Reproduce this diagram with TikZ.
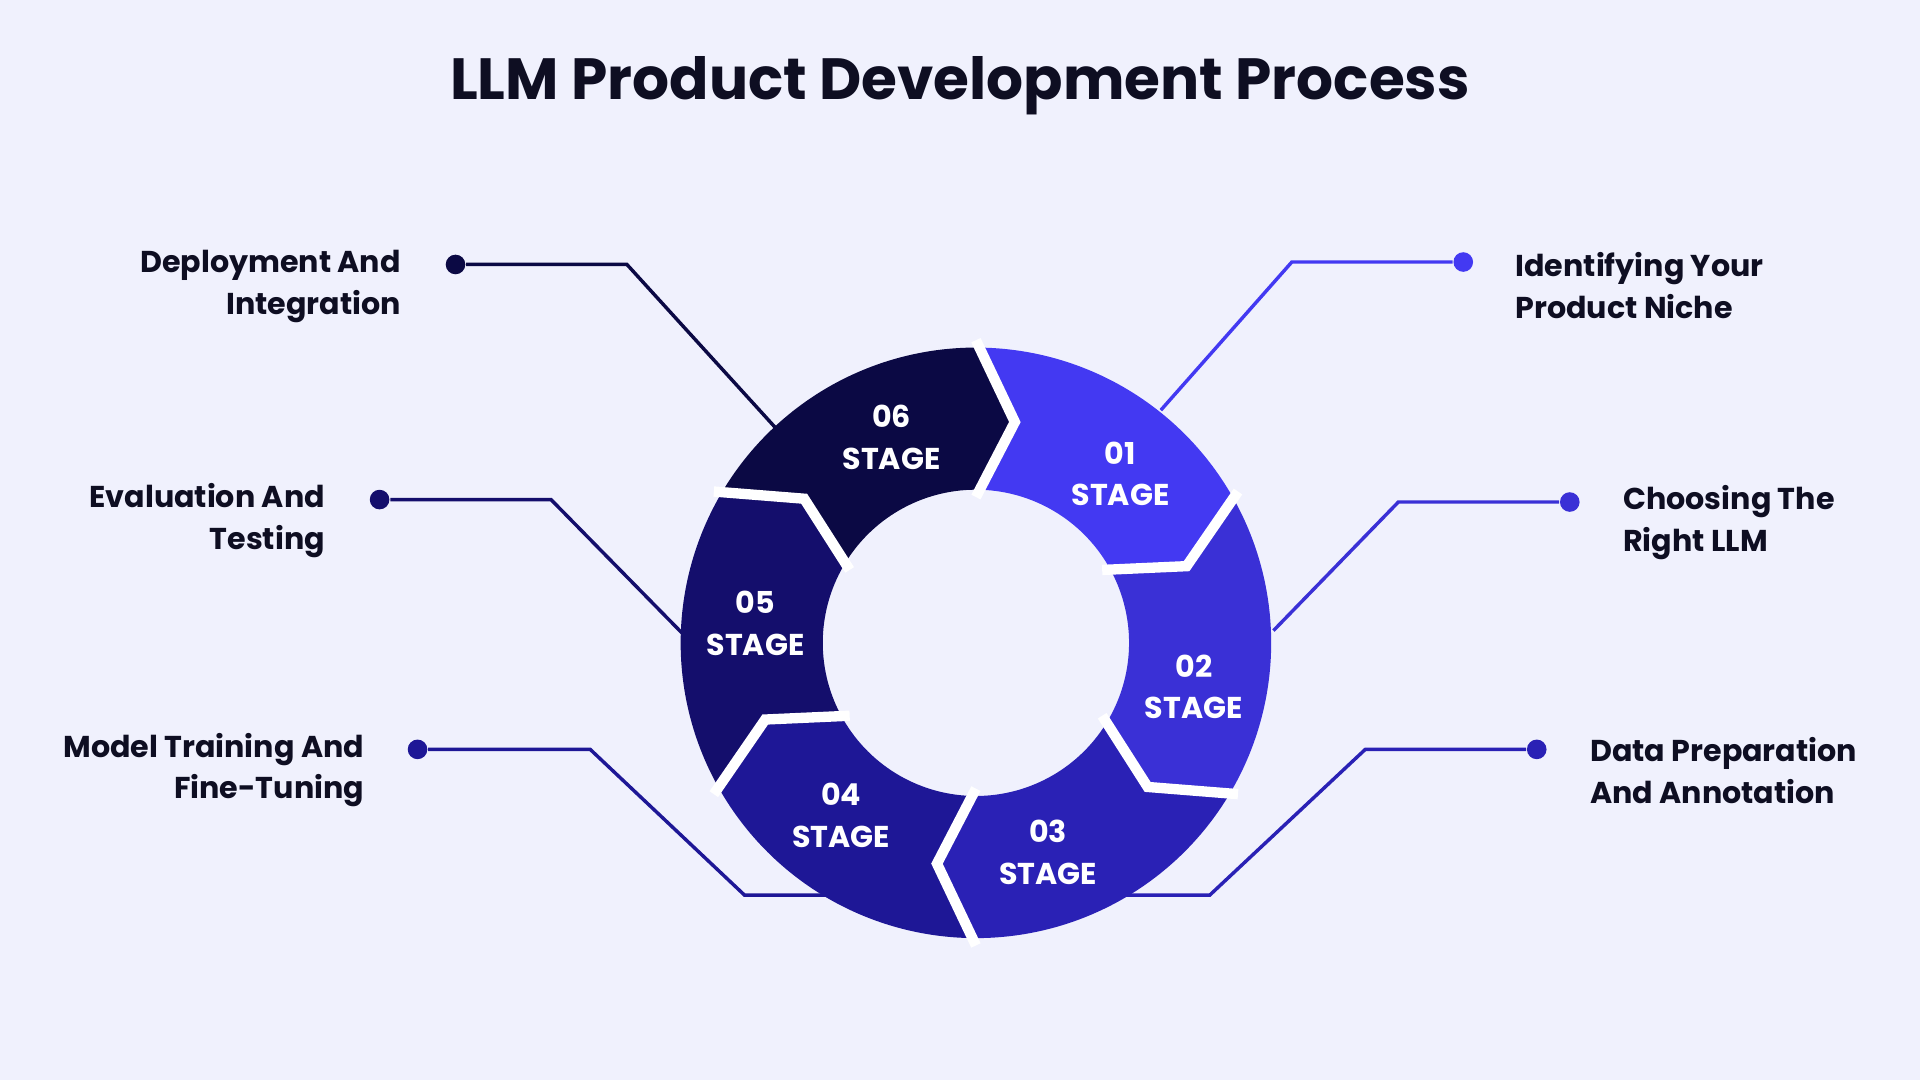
\documentclass[tikz,border=0pt]{standalone}
\usepackage{fontspec}
\setmainfont{Poppins}
\definecolor{bg}{HTML}{F0F1FD}
\definecolor{cA}{HTML}{4339F2}
\definecolor{cB}{HTML}{3A30D6}
\definecolor{cC}{HTML}{2A21B5}
\definecolor{cD}{HTML}{1E1796}
\definecolor{cE}{HTML}{140E6C}
\definecolor{cF}{HTML}{0B0944}
\definecolor{ink}{HTML}{0E0E22}
\tikzset{
 gap/.style={draw=white,line width=2.4pt,line join=miter},
 stg/.style={text=white,font=\bfseries\fontsize{7.0}{9.7}\selectfont,align=center},
 lbl/.style={text=ink,font=\bfseries\fontsize{7.0}{9.7}\selectfont,inner sep=0pt},
 dot/.style={circle,inner sep=0pt,minimum size=0.16cm},
 lnk/.style={line width=0.8pt}
}
\newcommand{\ringseg}[2]{%
 \fill[#2] (#1:2.41) arc[start angle=#1,end angle=#1-60,radius=2.41]
   -- (#1-70:1.83) -- (#1-60:1.25) arc[start angle=#1-60,end angle=#1,radius=1.25]
   -- (#1-10:1.83) -- cycle;}
\newcommand{\ringgap}[1]{\draw[gap] (#1:2.47) -- (#1-10:1.83) -- (#1:1.19);}
\begin{document}
\begin{tikzpicture}[x=0.01cm,y=0.01cm]
\fill[bg] (0,0) rectangle (1568,882);
\useasboundingbox (0,0) rectangle (1568,882);
\node[text=ink,font=\bfseries\fontsize{13.5}{16}\selectfont] (title) at (784,812) {LLM Product Development Process};
\begin{scope}[shift={(797,357)},x=1cm,y=1cm]
\ringseg{90}{cA}
\ringseg{30}{cB}
\ringseg{-30}{cC}
\ringseg{-90}{cD}
\ringseg{-150}{cE}
\ringseg{150}{cF}
\foreach \a in {90,30,-30,-90,-150,150} {\ringgap{\a}}
\end{scope}
\node[stg] (s1) at (915,495) {01\\STAGE};
\node[stg] (s2) at (975,321) {02\\STAGE};
\node[stg] (s3) at (856,186) {03\\STAGE};
\node[stg] (s4) at (687,216) {04\\STAGE};
\node[stg] (s5) at (617,373) {05\\STAGE};
\node[stg] (s6) at (728,525) {06\\STAGE};
% connectors
\coordinate (e1) at (948,547); \node[dot,fill=cA] (d1) at (1195,668) {};
\draw[lnk,cA] (e1) -- (1055,668) -- (d1);
\node[lbl,anchor=west,align=left] (t1) at (1237,649) {Identifying Your\\Product Niche};
\coordinate (e2) at (1040,367); \node[dot,fill=cB] (d2) at (1282,472) {};
\draw[lnk,cB] (e2) -- (1142,472) -- (d2);
\node[lbl,anchor=west,align=left] (t2) at (1325,455) {Choosing The\\Right LLM};
\coordinate (e3) at (918,151); \node[dot,fill=cC] (d3) at (1255,270) {};
\draw[lnk,cC] (e3) -- (988,151) -- (1115,270) -- (d3);
\node[lbl,anchor=west,align=left] (t3) at (1298,253) {Data Preparation\\And Annotation};
\coordinate (e4) at (680,151); \node[dot,fill=cD] (d4) at (341,270) {};
\draw[lnk,cD] (e4) -- (608,151) -- (482,270) -- (d4);
\node[lbl,anchor=east,align=right] (t4) at (298,253) {Model Training And\\Fine-Tuning};
\coordinate (e5) at (557,365); \node[dot,fill=cE] (d5) at (310,474) {};
\draw[lnk,cE] (e5) -- (450,474) -- (d5);
\node[lbl,anchor=east,align=right] (t5) at (266,457) {Evaluation And\\Testing};
\coordinate (e6) at (633,533); \node[dot,fill=cF] (d6) at (372,666) {};
\draw[lnk,cF] (e6) -- (512,666) -- (d6);
\node[lbl,anchor=east,align=right] (t6) at (328,648) {Deployment And\\Integration};
\end{tikzpicture}
\end{document}
